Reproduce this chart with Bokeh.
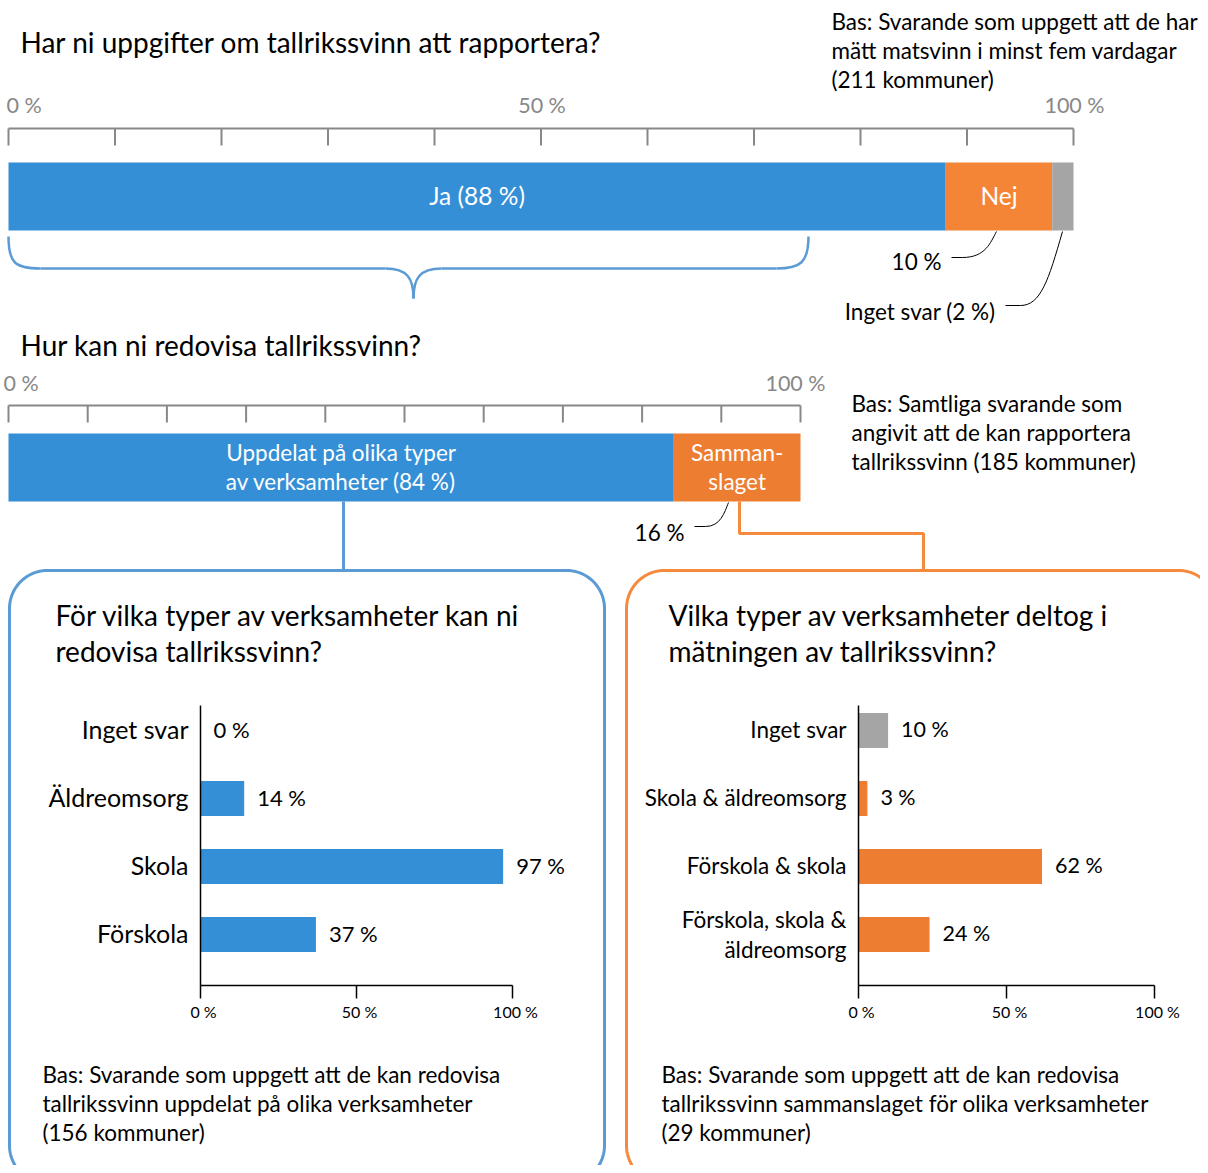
import numpy as np
from bokeh.plotting import figure
from bokeh.models import Range1d
from bokeh.core.properties import value
from bokeh.embed import file_html
from bokeh.resources import INLINE

# ---------------- data ----------------
q1_title = "Har ni uppgifter om tallrikssvinn att rapportera?"
q1_cats = ["Ja", "Nej", "Inget svar"]
q1_vals = [88, 10, 2]
q1_inside = ["Ja (88 %)", "Nej", ""]
q1_note = ["Bas: Svarande som uppgett att de har",
           "mätt matsvinn i minst fem vardagar",
           "(211 kommuner)"]
q1_callouts = ["10 %", "Inget svar (2 %)"]

q2_title = "Hur kan ni redovisa tallrikssvinn?"
q2_cats = ["Uppdelat", "Sammanslaget"]
q2_vals = [84, 16]
q2_inside = [["Uppdelat på olika typer", "av verksamheter (84 %)"],
             ["Samman-", "slaget"]]
q2_note = ["Bas: Samtliga svarande som",
           "angivit att de kan rapportera",
           "tallrikssvinn (185 kommuner)"]
q2_callout = "16 %"

top_ticks = list(range(0, 101, 10))
q1_tick_vals = [0, 50, 100]
q1_tick_labels = ["0 %", "50 %", "100 %"]
q2_tick_vals = [0, 100]
q2_tick_labels = ["0 %", "100 %"]

left_title = ["För vilka typer av verksamheter kan ni", "redovisa tallrikssvinn?"]
left_cats = ["Inget svar", "Äldreomsorg", "Skola", "Förskola"]
left_vals = [0, 14, 97, 37]
left_note = ["Bas: Svarande som uppgett att de kan redovisa",
             "tallrikssvinn uppdelat på olika verksamheter",
             "(156 kommuner)"]

right_title = ["Vilka typer av verksamheter deltog i", "mätningen av tallrikssvinn?"]
right_cats = ["Inget svar", "Skola & äldreomsorg", "Förskola & skola", "Förskola, skola &\näldreomsorg"]
right_vals = [10, 3, 62, 24]
right_note = ["Bas: Svarande som uppgett att de kan redovisa",
              "tallrikssvinn sammanslaget för olika verksamheter",
              "(29 kommuner)"]

sub_ticks = [0, 50, 100]
sub_tick_labels = ["0 %", "50 %", "100 %"]

# ---------------- styles ----------------
BLUE = "#348fd6"
ORANGE1 = "#f58536"
ORANGE = "#ed7d31"
GRAY = "#a5a5a5"
LINEBLUE = "#5b9bd5"
LINEORANGE = "#f58a3c"
AXGRAY = "#888888"
FONT = value("Lato")
TEXT_SHIFT = -1.5

W, H = 1200, 1165
X0, Y0 = 0, 0

p = figure(width=W, height=H, x_range=Range1d(X0, X0 + W), y_range=Range1d(Y0 + H, Y0),
           output_backend="svg", toolbar_location=None, min_border=0,
           x_axis_type=None, y_axis_type=None)
p.grid.visible = False
p.outline_line_color = None
p.background_fill_color = "white"
p.border_fill_color = "white"


def scale_range(px0, px100):
    k = (px100 - px0) / 100.0
    start = (X0 - px0) / k
    return Range1d(start, start + W / k)


p.extra_x_ranges = {
    "q1": scale_range(8, 1073),
    "q2": scale_range(8, 800),
    "L": scale_range(200, 512),
    "R": scale_range(858, 1154),
}


def txt(x, y, s, size, color="#000000", align="left", rng="default", xo=0):
    xs = x if isinstance(x, (list, tuple, np.ndarray)) else [x]
    ys = y if isinstance(y, (list, tuple, np.ndarray)) else [y]
    ss = s if isinstance(s, (list, tuple)) else [s]
    p.text(x=list(xs), y=[v + TEXT_SHIFT for v in ys], text=list(ss), text_font=FONT,
           text_font_size=size, text_color=color, text_align=align, text_baseline="middle",
           x_offset=xo, x_range_name=rng)


def lines_block(x, y0, dy, lines, size, color="#000000", align="left"):
    for i, s in enumerate(lines):
        txt(x, y0 + i * dy, s, size, color, align)


# ---------------- Q1 ----------------
txt(20, 43, q1_title, "28px")
lines_block(831, 22, 29, q1_note, "22.5px")

# axis
p.segment(x0=[0], y0=[128], x1=[100], y1=[128], line_color=AXGRAY, line_width=2, x_range_name="q1")
p.segment(x0=top_ticks, y0=[128] * len(top_ticks), x1=top_ticks, y1=[145] * len(top_ticks),
          line_color=AXGRAY, line_width=2, x_range_name="q1")
txt(q1_tick_vals[0], 106, q1_tick_labels[0], "21.5px", AXGRAY, "left", "q1", -2)
txt(q1_tick_vals[1:], [106, 106], q1_tick_labels[1:], "21.5px", AXGRAY, "center", "q1", 1)

cum1 = np.cumsum([0] + q1_vals)
p.hbar(y=[196] * 3, left=cum1[:-1], right=cum1[1:], height=68,
       fill_color=[BLUE, ORANGE1, GRAY], line_color=None, x_range_name="q1")
mids1 = ((cum1[:-1] + cum1[1:]) / 2).tolist()
txt(mids1[:2], [196, 196], q1_inside[:2], "24.5px", "white", "center", "q1")

# brace
bx = dict(line_color=LINEBLUE, line_width=2.5)
p.bezier(x0=[8, 385, 413, 776], y0=[236, 268, 298, 268],
         x1=[40, 413, 441, 808], y1=[268, 298, 268, 236],
         cx0=[8, 407, 413, 800], cy0=[262, 268, 278, 268],
         cx1=[14, 413, 419, 808], cy1=[268, 278, 268, 262], **bx)
p.segment(x0=[40, 441], y0=[268, 268], x1=[385, 776], y1=[268, 268], **bx)

# callouts
cl = dict(line_color="#000000", line_width=1)
p.segment(x0=[951, 1005], y0=[257, 305], x1=[962, 1020], y1=[257, 305], **cl)
p.bezier(x0=[962, 1020], y0=[257, 305], x1=[996, 1062], y1=[231, 231],
         cx0=[985, 1040], cy0=[257, 305], cx1=[990, 1048], cy1=[242, 280], **cl)
txt(941, 262, q1_callouts[0], "22.5px", align="right")
txt(995, 312, q1_callouts[1], "22.5px", align="right")

# ---------------- Q2 ----------------
txt(20, 346, q2_title, "28px")
lines_block(851, 404, 29, q2_note, "22.5px")

p.segment(x0=[0], y0=[405], x1=[100], y1=[405], line_color=AXGRAY, line_width=2, x_range_name="q2")
p.segment(x0=top_ticks, y0=[405] * len(top_ticks), x1=top_ticks, y1=[422] * len(top_ticks),
          line_color=AXGRAY, line_width=2, x_range_name="q2")
txt(q2_tick_vals[0], 384, q2_tick_labels[0], "21.5px", AXGRAY, "left", "q2", -5)
txt(q2_tick_vals[1], 384, q2_tick_labels[1], "21.5px", AXGRAY, "center", "q2", -5)

cum2 = np.cumsum([0] + q2_vals)
p.hbar(y=[467] * 2, left=cum2[:-1], right=cum2[1:], height=68,
       fill_color=[BLUE, ORANGE], line_color=None, x_range_name="q2")
mids2 = ((cum2[:-1] + cum2[1:]) / 2).tolist()
for m, lab in zip(mids2, q2_inside):
    txt([m, m], [453, 482], lab, "22.5px", "white", "center", "q2")

p.segment(x0=[694], y0=[526], x1=[705], y1=[526], **cl)
p.bezier(x0=[705], y0=[526], x1=[728], y1=[502], cx0=[720], cy0=[526], cx1=[724], cy1=[512], **cl)
txt(684, 533, q2_callout, "22.5px", align="right")

# connectors
p.line(x=[343, 343], y=[501, 569], line_color=LINEBLUE, line_width=3)
p.line(x=[739, 739, 923, 923], y=[501, 533, 533, 569], line_color=LINEORANGE, line_width=3)


# ---------------- boxes ----------------
def rounded(x0, y0, x1, y1, r, n=24):
    xs, ys = [], []
    specs = [((x0 + r, y0 + r), 180, 270), ((x1 - r, y0 + r), 270, 360),
             ((x1 - r, y1 - r), 0, 90), ((x0 + r, y1 - r), 90, 180)]
    for (cx, cy), a0, a1 in specs:
        t = np.radians(np.linspace(a0, a1, n))
        xs += (cx + r * np.cos(t)).tolist()
        ys += (cy + r * np.sin(t)).tolist()
    xs.append(xs[0]); ys.append(ys[0])
    return xs, ys


bxs, bys = rounded(9, 570, 604, 1183, 38)
p.line(x=bxs, y=bys, line_color=LINEBLUE, line_width=3)
bxs, bys = rounded(626, 570, 1216, 1183, 38)
p.line(x=bxs, y=bys, line_color=LINEORANGE, line_width=3)


# ---------------- sub charts ----------------
def subchart(rng, cats, vals, colors, title, tx, note, nx, cat_size, val_size):
    lines_block(tx, 616, 36, title, "28px")
    lines_block(nx, 1075, 29, note, "22.5px")
    rows = [730 + 68 * i for i in range(len(cats))]
    p.hbar(y=rows, left=[0] * len(vals), right=vals, height=35,
           fill_color=colors, line_color=None, x_range_name=rng)
    # axes
    p.segment(x0=[0], y0=[705], x1=[0], y1=[985], line_color="#000000", line_width=1.5, x_range_name=rng)
    p.segment(x0=[0], y0=[985], x1=[100], y1=[985], line_color="#000000", line_width=1.5, x_range_name=rng)
    p.segment(x0=sub_ticks, y0=[985] * 3, x1=sub_ticks, y1=[998] * 3,
              line_color="#000000", line_width=1.5, x_range_name=rng)
    txt(sub_ticks, [1012] * 3, sub_tick_labels, "16px", "#000000", "center", rng, 3)
    # category labels
    for yv, c in zip(rows, cats):
        parts = c.split("\n")
        if len(parts) == 1:
            txt(0, yv, c, cat_size, align="right", rng=rng, xo=-12)
        else:
            txt([0, 0], [yv - 14, yv + 16], parts, cat_size, align="right", rng=rng, xo=-12)
    txt(vals, rows, [f"{v} %" for v in vals], val_size, align="left", rng=rng, xo=13)


subchart("L", left_cats, left_vals, [BLUE] * 4, left_title, 55, left_note, 42, "25px", "22px")
subchart("R", right_cats, right_vals, [GRAY, ORANGE, ORANGE, ORANGE], right_title, 668,
         right_note, 661, "22.5px", "21.5px")

open("out.html", "w").write(file_html(p, INLINE))
